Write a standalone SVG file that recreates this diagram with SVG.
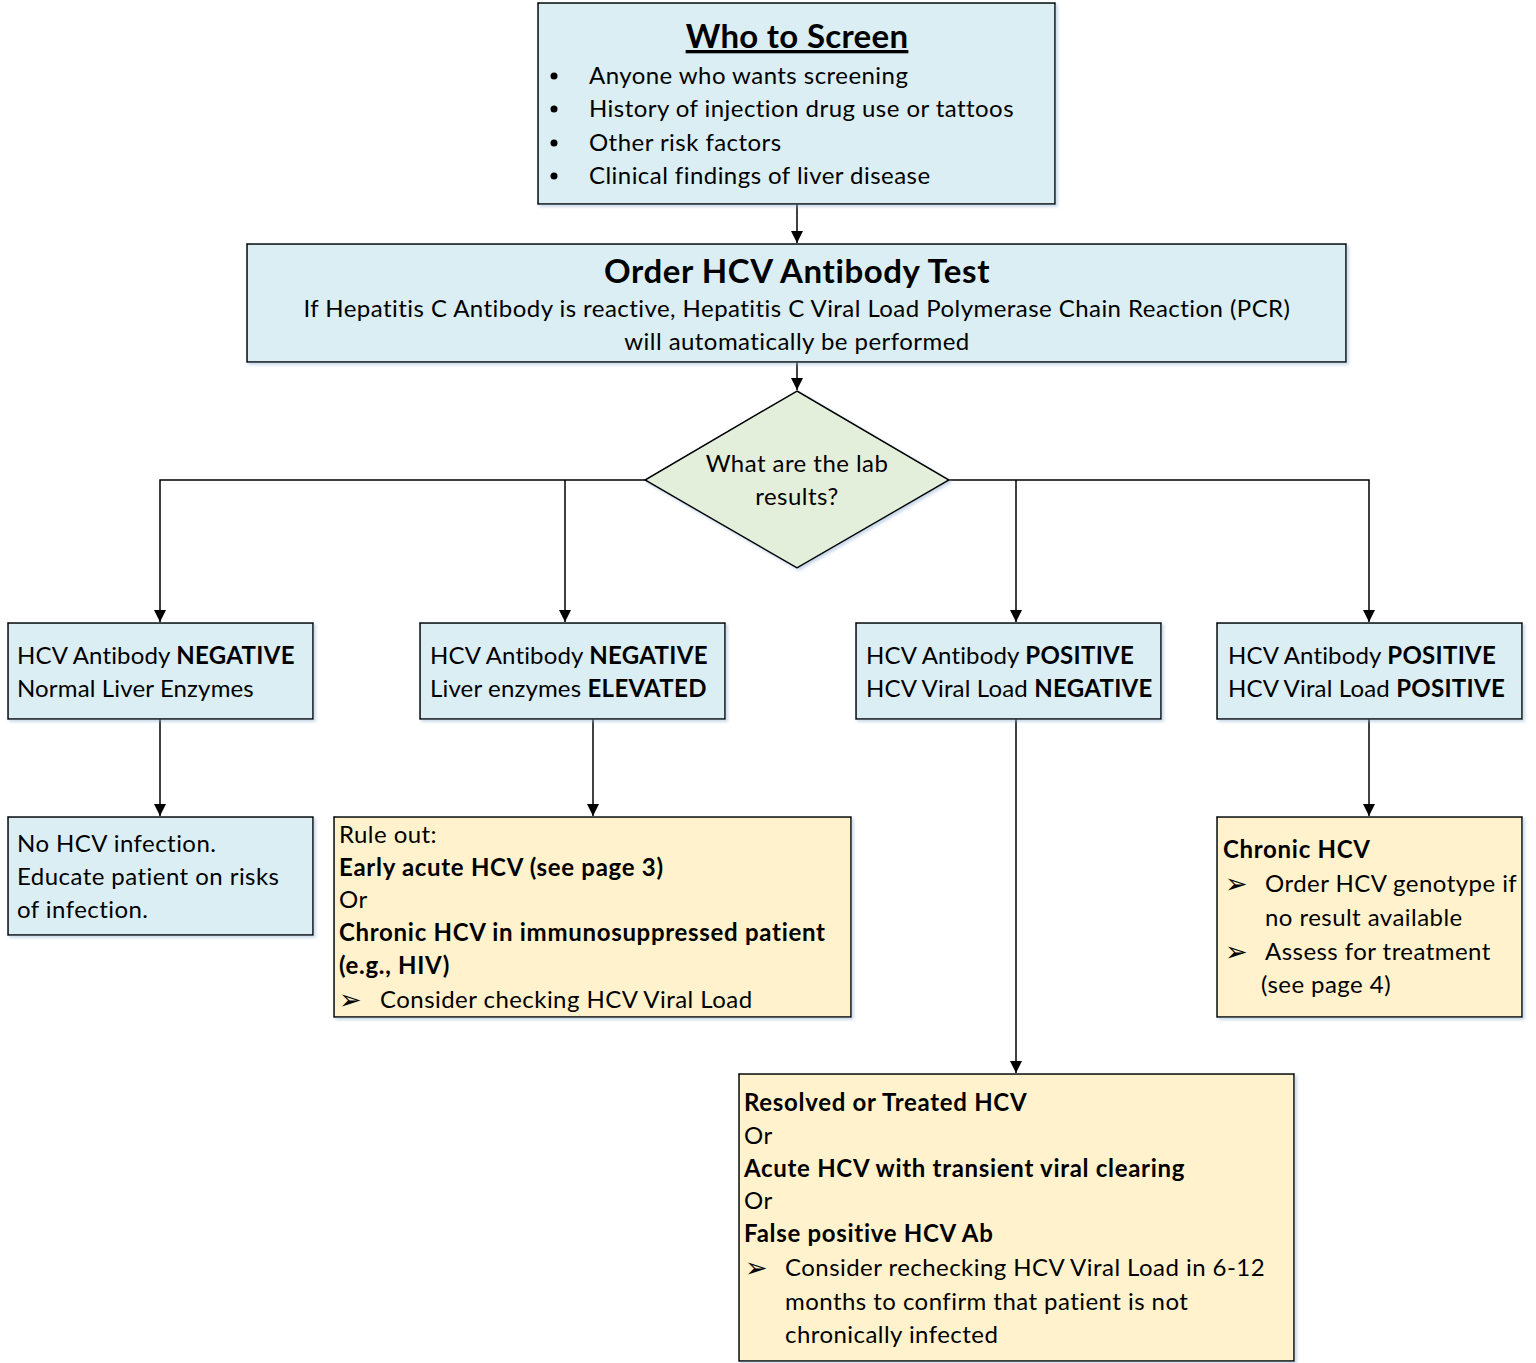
<svg xmlns="http://www.w3.org/2000/svg" width="1536" height="1363" viewBox="0 0 1536 1363">
<style>
text{font-family:Lato,"Open Sans","Liberation Sans",sans-serif;fill:#000;font-size:24px;letter-spacing:0.45px}
.b{font-weight:bold;letter-spacing:0.7px}
.row text{letter-spacing:0.15px}
.row .b{letter-spacing:0.3px}
.t1{font-size:33px;letter-spacing:0.3px}
.t2{font-size:33px;letter-spacing:0.6px}
.ar{font-family:"DejaVu Sans",sans-serif;font-size:27px;letter-spacing:0}
.blue{fill:#DAEEF3;stroke:#000;stroke-width:1.5}
.yel{fill:#FFF2CC;stroke:#000;stroke-width:1.5}
.grn{fill:#E4EFDB;stroke:#000;stroke-width:1.5}
.c{text-anchor:middle}
.ln{fill:none;stroke:#000;stroke-width:1.5}
</style>
<defs>
<marker id="ah" markerWidth="12" markerHeight="12" refX="12" refY="6" orient="auto" markerUnits="userSpaceOnUse">
<path d="M0,0 L12,6 L0,12 Z" fill="#000"/>
</marker>
<filter id="sh" x="-5%" y="-5%" width="110%" height="115%">
<feDropShadow dx="2" dy="2" stdDeviation="1.5" flood-color="#8FAFD0" flood-opacity="0.5"/>
</filter>
</defs>

<g id="connectors">
<path class="ln" d="M797,204 V243" marker-end="url(#ah)"/>
<path class="ln" d="M797,362 V390" marker-end="url(#ah)"/>
<path class="ln" d="M645,480 H160 V622" marker-end="url(#ah)"/>
<path class="ln" d="M565,480 V622" marker-end="url(#ah)"/>
<path class="ln" d="M949,480 H1369 V622" marker-end="url(#ah)"/>
<path class="ln" d="M1016,480 V622" marker-end="url(#ah)"/>
<path class="ln" d="M160,719 V816" marker-end="url(#ah)"/>
<path class="ln" d="M593,719 V816" marker-end="url(#ah)"/>
<path class="ln" d="M1016,719 V1073" marker-end="url(#ah)"/>
<path class="ln" d="M1369,719 V816" marker-end="url(#ah)"/>
</g>

<g id="who">
<rect class="blue" x="538" y="3" width="517" height="201" filter="url(#sh)"/>
<text class="c b t1" x="797" y="48" text-decoration="underline">Who to Screen</text>
<circle cx="554" cy="76" r="3.5"/>
<circle cx="554" cy="109" r="3.5"/>
<circle cx="554" cy="143" r="3.5"/>
<circle cx="554" cy="176" r="3.5"/>
<text x="589" y="84">Anyone who wants screening</text>
<text x="589" y="117">History of injection drug use or tattoos</text>
<text x="589" y="151">Other risk factors</text>
<text x="589" y="184">Clinical findings of liver disease</text>
</g>

<g id="order">
<rect class="blue" x="247" y="244" width="1099" height="118" filter="url(#sh)"/>
<text class="c b t2" x="797" y="283">Order HCV Antibody Test</text>
<text class="c" x="797" y="317">If Hepatitis C Antibody is reactive, Hepatitis C Viral Load Polymerase Chain Reaction (PCR)</text>
<text class="c" x="797" y="350">will automatically be performed</text>
</g>

<g id="decision">
<path class="grn" d="M797,391 L949,480 L797,568 L645,480 Z" filter="url(#sh)"/>
<text class="c" x="797" y="472">What are the lab</text>
<text class="c" x="797" y="505">results?</text>
</g>

<g id="nodeA" class="row">
<rect class="blue" x="8" y="623" width="305" height="96" filter="url(#sh)"/>
<text x="17" y="664">HCV Antibody <tspan class="b">NEGATIVE</tspan></text>
<text x="17" y="697">Normal Liver Enzymes</text>
</g>

<g id="nodeB" class="row">
<rect class="blue" x="420" y="623" width="305" height="96" filter="url(#sh)"/>
<text x="430" y="664">HCV Antibody <tspan class="b">NEGATIVE</tspan></text>
<text x="430" y="697">Liver enzymes <tspan class="b">ELEVATED</tspan></text>
</g>

<g id="nodeC" class="row">
<rect class="blue" x="856" y="623" width="305" height="96" filter="url(#sh)"/>
<text x="866" y="664">HCV Antibody <tspan class="b">POSITIVE</tspan></text>
<text x="866" y="697">HCV Viral Load <tspan class="b">NEGATIVE</tspan></text>
</g>

<g id="nodeD" class="row">
<rect class="blue" x="1217" y="623" width="305" height="96" filter="url(#sh)"/>
<text x="1228" y="664">HCV Antibody <tspan class="b">POSITIVE</tspan></text>
<text x="1228" y="697">HCV Viral Load <tspan class="b">POSITIVE</tspan></text>
</g>

<g id="nodeE">
<rect class="blue" x="8" y="817" width="305" height="118" filter="url(#sh)"/>
<text x="17" y="852">No HCV infection.</text>
<text x="17" y="885">Educate patient on risks</text>
<text x="17" y="918">of infection.</text>
</g>

<g id="nodeF">
<rect class="yel" x="334" y="817" width="517" height="200" filter="url(#sh)"/>
<text x="339" y="843">Rule out:</text>
<text class="b" x="339" y="876">Early acute HCV (see page 3)</text>
<text x="339" y="908">Or</text>
<text class="b" x="339" y="941">Chronic HCV in immunosuppressed patient</text>
<text class="b" x="339" y="974">(e.g., HIV)</text>
<text class="ar" x="339" y="1009">➢</text>
<text x="380" y="1008">Consider checking HCV Viral Load</text>
</g>

<g id="nodeG">
<rect class="yel" x="739" y="1074" width="555" height="287" filter="url(#sh)"/>
<text class="b" x="744" y="1111">Resolved or Treated HCV</text>
<text x="744" y="1144">Or</text>
<text class="b" x="744" y="1177">Acute HCV with transient viral clearing</text>
<text x="744" y="1209">Or</text>
<text class="b" x="744" y="1242">False positive HCV Ab</text>
<text class="ar" x="745" y="1277">➢</text>
<text x="785" y="1276">Consider rechecking HCV Viral Load in 6-12</text>
<text x="785" y="1310">months to confirm that patient is not</text>
<text x="785" y="1343">chronically infected</text>
</g>

<g id="nodeH">
<rect class="yel" x="1217" y="817" width="305" height="200" filter="url(#sh)"/>
<text class="b" x="1223" y="858">Chronic HCV</text>
<text class="ar" x="1225" y="893">➢</text>
<text x="1265" y="892">Order HCV genotype if</text>
<text x="1265" y="926">no result available</text>
<text class="ar" x="1225" y="961">➢</text>
<text x="1265" y="960">Assess for treatment</text>
<text x="1261" y="993">(see page 4)</text>
</g>
</svg>
